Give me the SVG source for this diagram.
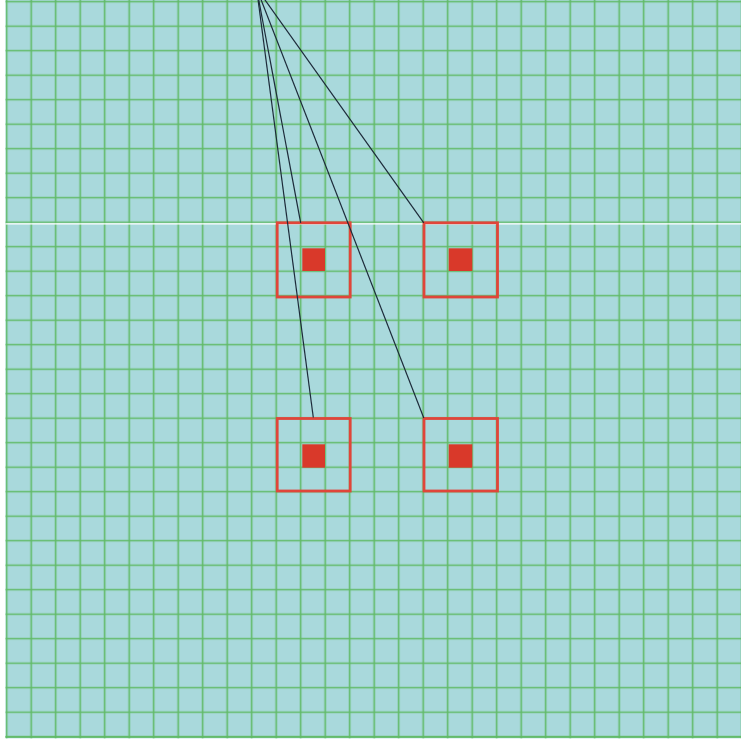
<svg xmlns="http://www.w3.org/2000/svg" width="741" height="743" viewBox="0 0 741 743">
<defs>
<pattern id="grid" x="-5.55" y="-10.55" width="24.5" height="24.5" patternUnits="userSpaceOnUse">
<path d="M0 12.25H24.5M12.25 0V24.5" fill="none" stroke="#60ba66" stroke-width="1.6"/>
</pattern>
</defs>
<style>
.box{fill:none;stroke:#e0453a;stroke-width:2.8}
.core{fill:#d9392a}
.conn{fill:none;stroke:#1d2b3a;stroke-width:1.2}
</style>
<rect x="0" y="0" width="741" height="743" fill="#ffffff"/>
<rect x="5.5" y="0" width="735.5" height="738.3" fill="#a9d9dc"/>
<rect x="5.5" y="0" width="735.5" height="738.3" fill="url(#grid)"/>
<line x1="5.5" y1="737" x2="741" y2="737" stroke="#60ba66" stroke-width="1.6"/>
<line x1="5.5" y1="223.8" x2="741" y2="223.8" stroke="#ffffff" stroke-width="1.2"/>
<g id="node-top-left">
<rect class="box" x="277.2" y="222.8" width="73" height="74.2"/>
<rect class="core" x="302.3" y="248.3" width="22.7" height="22.7"/>
</g>
<g id="node-top-right">
<rect class="box" x="424" y="222.8" width="73.5" height="74.2"/>
<rect class="core" x="448.7" y="248.3" width="23.6" height="22.7"/>
</g>
<g id="node-bottom-left">
<rect class="box" x="277.2" y="418.5" width="73" height="72.5"/>
<rect class="core" x="302.3" y="444.3" width="22.7" height="23.4"/>
</g>
<g id="node-bottom-right">
<rect class="box" x="424" y="418.5" width="73.5" height="72.5"/>
<rect class="core" x="448.7" y="444.3" width="23.6" height="23.4"/>
</g>
<g id="connectors">
<line class="conn" x1="256.5" y1="-12" x2="313.3" y2="417.5"/>
<line class="conn" x1="256.5" y1="-12" x2="300.7" y2="222.8"/>
<line class="conn" x1="256.5" y1="-12" x2="423.8" y2="418"/>
<line class="conn" x1="256.5" y1="-12" x2="423.8" y2="222.8"/>
</g>
</svg>
